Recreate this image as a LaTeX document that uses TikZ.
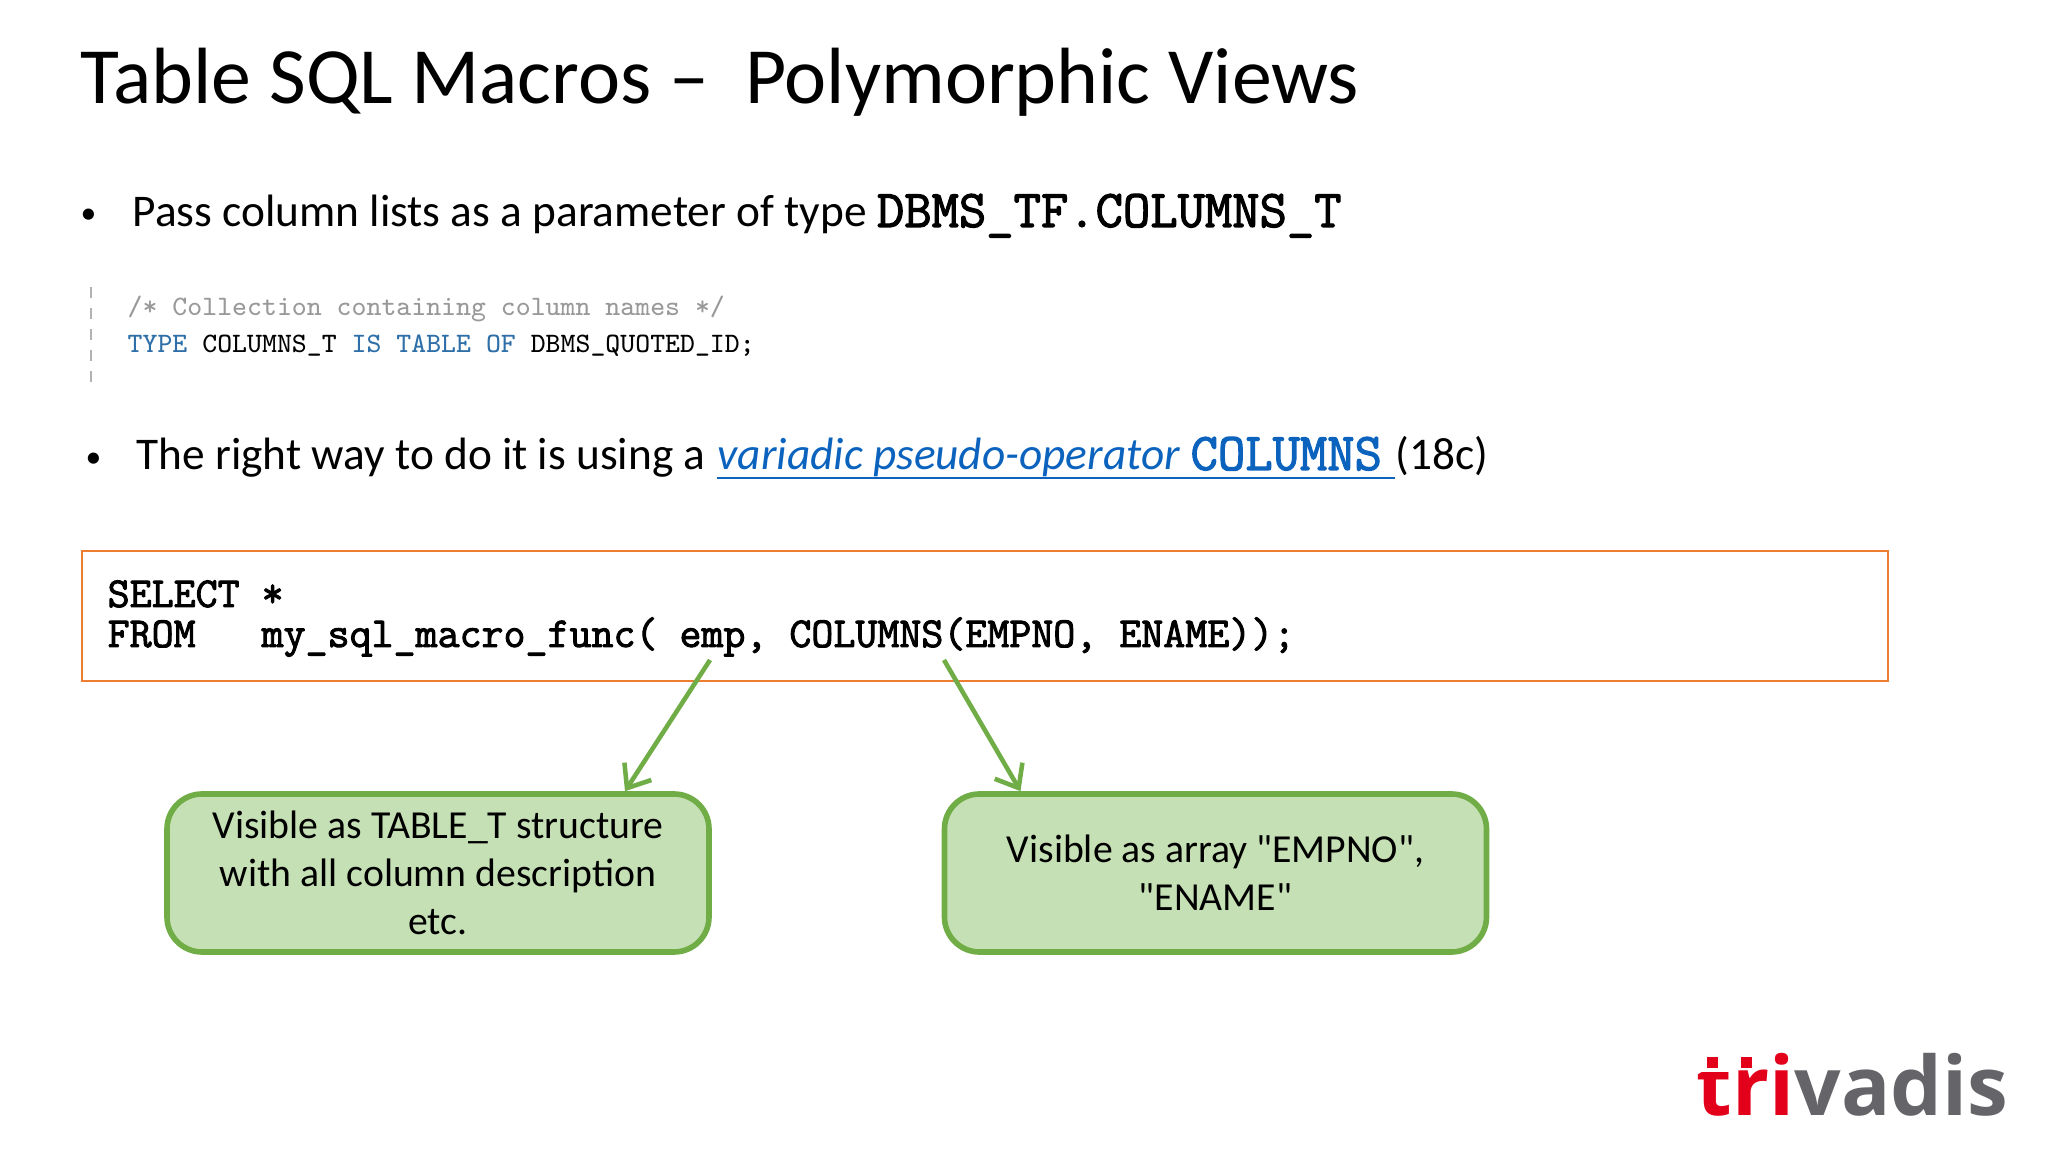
\documentclass[tikz,border=0pt]{standalone}
\usepackage{fontspec}
\setmainfont{Carlito}
\newfontfamily\boxfont{Carlito}
\newfontfamily\logofont{Open Sans}
\newfontfamily\sqlfont[FakeBold=2.2]{Latin Modern Mono}
\usetikzlibrary{arrows.meta}
\definecolor{linkblue}{HTML}{0B63BE}
\definecolor{codeblue}{HTML}{2F6FA8}
\definecolor{boxgreen}{HTML}{C5E0B4}
\definecolor{linegreen}{HTML}{70AD47}
\definecolor{boxorange}{HTML}{ED7D31}
\definecolor{logored}{HTML}{E2001A}
\definecolor{logogray}{HTML}{656569}
\tikzset{
    txt/.style={anchor=base west, inner sep=0pt, font=\fontsize{12.9}{15}\selectfont},
    bullet/.style={anchor=base west, inner sep=0pt, font=\fontsize{9}{12}\selectfont},
    code/.style={anchor=base west, inner sep=0pt, font=\fontsize{8}{10}\selectfont\ttfamily},
    sql/.style={anchor=base west, inner sep=0pt, font=\fontsize{12.15}{14}\selectfont\sqlfont},
    callout/.style={draw=linegreen, fill=boxgreen, line width=1.6pt, rounded corners=3.5mm,
        minimum width=5.42cm, minimum height=1.58cm, align=center,
        font=\fontsize{11.3}{13.6}\selectfont\boxfont},
    pointer/.style={draw=linegreen, line width=1.3pt, -{Straight Barb[length=2mm,width=3.2mm]}}
}
\begin{document}
\begin{tikzpicture}
    \useasboundingbox (0,0) rectangle (20.48,-11.52);

    % the title
    \node[txt, font=\fontsize{22.7}{26}\selectfont] (title) at (0.80,-1.04) {Table SQL Macros --\ \ Polymorphic Views};

    % the first bullet and the code below it
    \node[bullet] (bulleta) at (0.80,-2.24) {•};
    \node[txt] (linea) at (1.32,-2.27) {Pass column lists as a parameter of type {\fontsize{15.1}{15}\selectfont\sqlfont DBMS\_TF.COLUMNS\_T}};
    \coordinate (rulea) at (0.91,-2.87);
    \coordinate (ruleb) at (0.91,-3.82);
    \draw[gray!60, line width=0.3pt, dashed] (rulea) -- (ruleb);
    \node[code, text=gray!80] (comment) at (1.27,-3.16) {/* Collection containing column names */};
    \node[code] (typeline) at (1.27,-3.53) {\textcolor{codeblue}{TYPE} COLUMNS\_T \textcolor{codeblue}{IS} \textcolor{codeblue}{TABLE} \textcolor{codeblue}{OF} DBMS\_QUOTED\_ID;};

    % the second bullet, with the link
    \node[bullet] (bulletb) at (0.85,-4.68) {•};
    \node[txt] (lineb) at (1.36,-4.70) {The right way to do it is using a};
    \node[txt, text=linkblue] (link) at (7.17,-4.70) {\textit{variadic pseudo-operator} {\fontsize{15.1}{15}\selectfont\sqlfont COLUMNS}};
    \draw[linkblue, line width=0.6pt] ([yshift=-0.8mm]link.base west) -- ([shift={(1.2mm,-0.8mm)}]link.base east);
    \node[txt] (release) at (13.95,-4.70) {(18c)};

    % the statement
    \node[draw=boxorange, line width=0.6pt, minimum width=18.06cm, minimum height=1.30cm, inner sep=0pt] (stmt) at (9.85,-6.16) {};
    \node[sql] (select) at (1.07,-6.07) {SELECT *};
    \node[sql] (from) at (1.07,-6.47) {FROM\ \ \ my\_sql\_macro\_func( emp, COLUMNS(EMPNO, ENAME));};

    % the two boxes
    \node[callout] (tablebox) at (4.38,-8.73) {Visible as TABLE\_T structure\\with all column description\\etc.};
    \node[callout] (arraybox) at (12.155,-8.73) {Visible as array "EMPNO",\\"ENAME"};

    % the arrows
    \coordinate (emp) at (7.10,-6.60);
    \coordinate (cols) at (9.44,-6.60);
    \draw[pointer] (emp) -- ([xshift=1.87cm]tablebox.north);
    \draw[pointer] (cols) -- ([xshift=-1.95cm]arraybox.north);

    % the logo
    \node[anchor=base west, inner sep=0pt, font=\fontsize{23.3}{25}\selectfont\logofont\bfseries] (logo) at (16.96,-11.15) {\textcolor{logored}{tri}\textcolor{logogray}{vadis}};
    \fill[white] (17.0,-10.50) rectangle (17.3,-10.72);
    \fill[logored] (17.07,-10.57) rectangle (17.18,-10.68);
    \fill[logored] (17.41,-10.57) rectangle (17.52,-10.68);
\end{tikzpicture}
\end{document}
